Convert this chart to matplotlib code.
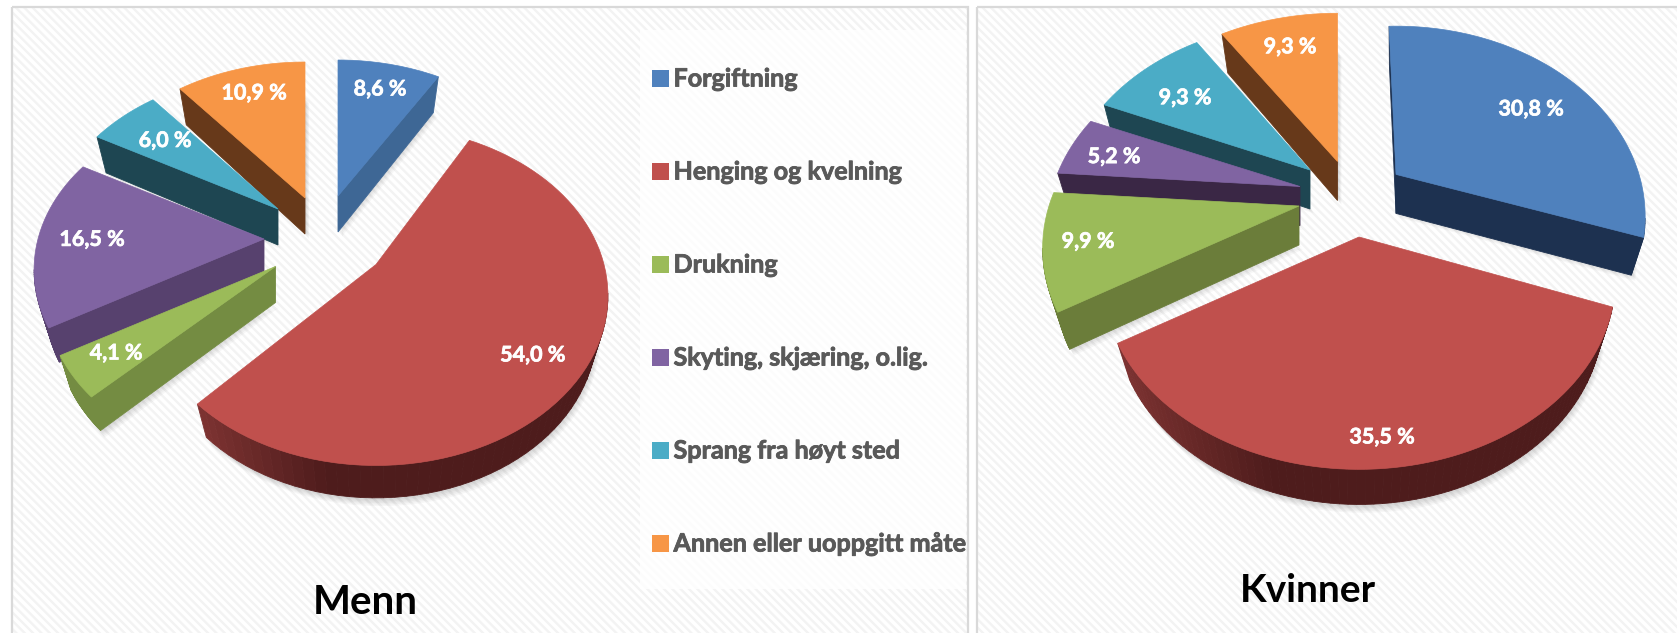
import numpy as np
import matplotlib
matplotlib.use('Agg')
import matplotlib.pyplot as plt
import matplotlib.patheffects as pe
from matplotlib.patches import Rectangle

plt.rcParams['font.family'] = ['Lato', 'DejaVu Sans']
plt.rcParams['hatch.linewidth'] = 1.7

# data
categories = ['Forgiftning', 'Henging og kvelning', 'Drukning',
              'Skyting, skjæring, o.lig.', 'Sprang fra høyt sted',
              'Annen eller uoppgitt måte']
menn = [8.6, 54.0, 4.1, 16.5, 6.0, 10.9]
kvinner = [30.8, 35.5, 9.9, 5.2, 9.3, 9.3]

# colours
tops = ['#4f81bd', '#c0504d', '#9bbb59', '#8064a2', '#4bacc6', '#f79646']
walls_m = ['#3e6795', '#4e1c1c', '#748c42', '#57416e', '#1e4652', '#67391a']
walls_k = ['#1d3150', '#4e1c1c', '#6b7d3a', '#3a2745', '#1e4652', '#67391a']

# layout of the two pies, in figure pixels
pie_m = dict(cx=320, cy=230, a=[226, 228, 226, 226, 226, 226],
             b=[161, 164, 161, 161, 161, 161], k=0.184,
             depth=36, rot=[0, -2.5, 0, 0, 0, 0],
             dx=[18, 56, -44.5, -56, -42, -15],
             dy=[-34, 34.5, 36.5, 9, -21, -32],
             lx=[380, 532.6, 116, 92, 165, 254],
             ly=[89, 355, 353, 239.4, 140.5, 93])
pie_k = dict(cx=1320, cy=190, a=[243, 250, 250, 247, 243, 248],
             b=[181, 181, 181, 181, 181, 181], k=0.221,
             depth=39, rot=[-2, 0, 0, 0, 0, 0],
             dx=[76, 39, -21, -20, -10, 17.5],
             dy=[-15.6, 47, 16, -3.5, -20, -28.5],
             lx=[1531, 1382, 1088, 1114, 1185, 1290],
             ly=[109, 437, 241.4, 156.6, 97.7, 46.8])
taper = 0.95


def outline(theta1, theta2, p, i):
    # top face of one slice, clockwise on screen: apex, then the rim
    t = np.radians(np.linspace(theta1, theta2, 80) + p['rot'][i])
    u, v = np.sin(t), np.cos(t)
    d = 1 + p['k'] * v
    ax0 = p['cx'] + p['dx'][i]
    ay0 = p['cy'] + p['dy'][i]
    x = ax0 + p['a'][i] * u / d
    y = ay0 - p['b'][i] * v / d
    return np.r_[ax0, x], np.r_[ay0, y], np.r_[0, v]


def mix(c1, c2, t):
    c1 = np.array(matplotlib.colors.to_rgb(c1))
    c2 = np.array(matplotlib.colors.to_rgb(c2))
    return tuple(c1 + (c2 - c1) * t)


def draw_pie(ax, values, p, walls):
    vals = np.array(values)
    edges = np.r_[0, np.cumsum(vals)] / vals.sum() * 360
    shapes = [outline(edges[i], edges[i + 1], p, i) for i in range(len(vals))]

    # soft shadow first, so that it stays under every slice
    for i, (x, y, v) in enumerate(shapes):
        x2 = x[0] + (x - x[0]) * taper
        for s in range(1, 6):
            ax.fill(x2 + s * 0.8, y + p['depth'] * 0.92 + s * 1.5,
                    color='black', alpha=0.03, lw=0, zorder=2)

    # back slices first
    order = [5, 4, 3, 2, 0, 1]
    for n, i in enumerate(order):
        x, y, v = shapes[i]
        z = 3 + n
        xs = np.r_[x, x[0]]
        ys = np.r_[y, y[0]]
        vs = np.r_[v, 0]
        xb = x[0] + (xs - x[0]) * taper
        xmin, xmax = x.min(), x.max()
        for j in range(len(xs) - 1):
            # only the edges running left face the viewer
            if xs[j + 1] >= xs[j]:
                continue
            col = walls[i]
            if i == 1:
                col = mix('#7c3231', walls[i],
                          min(1, (min(xs[j], xs[j + 1]) - xmin) / (0.3 * (xmax - xmin))))
            d1 = p['depth'] * (1 + 0.1 * min(vs[j], 0))
            d2 = p['depth'] * (1 + 0.1 * min(vs[j + 1], 0))
            ax.fill([xs[j], xs[j + 1], xb[j + 1], xb[j]],
                    [ys[j], ys[j + 1], ys[j + 1] + d2, ys[j] + d1],
                    color=col, lw=0.6, zorder=z)
        ax.fill(x, y, color=tops[i], lw=0.5, zorder=z + 0.5)

    for i in range(len(vals)):
        label = f'{values[i]:.1f} %'.replace('.', ',')
        ax.text(p['lx'][i], p['ly'][i], label, color='white', fontsize=15.5,
                fontweight='bold', ha='center', va='center', zorder=20,
                path_effects=[pe.withStroke(linewidth=0.5, foreground='white')])


fig = plt.figure(figsize=(16.77, 6.33), dpi=100)
ax = fig.add_axes([0, 0, 1, 1])
ax.set_xlim(0, 1677)
ax.set_ylim(633, 0)
ax.axis('off')

# the two panels with their faint stripes
for left, right in [(12, 968), (977, 1690)]:
    ax.add_patch(Rectangle((left, 7), right - left, 640, facecolor='white',
                           edgecolor='#f3f3f3', hatch='\\\\\\\\', lw=0, zorder=0))
    ax.add_patch(Rectangle((left, 7), right - left, 640, facecolor='none',
                           edgecolor='#d9d9d9', lw=1.6, zorder=1))

# legend box
ax.add_patch(Rectangle((640, 30), 326, 559, facecolor='white', alpha=0.8, lw=0, zorder=1))

draw_pie(ax, menn, pie_m, walls_m)
draw_pie(ax, kvinner, pie_k, walls_k)

# legend
legend_y = np.linspace(79, 544, len(categories))
for name, col, y in zip(categories, tops, legend_y):
    ax.add_patch(Rectangle((652, y - 9.5), 17, 17, facecolor=col, lw=0, zorder=5))
    ax.text(673.5, y, name, color='#595959', fontsize=18.1, fontweight='bold',
            ha='left', va='center', zorder=5,
            path_effects=[pe.withStroke(linewidth=0.6, foreground='#595959')])

ax.text(365, 603, 'Menn', color='black', fontsize=29, fontweight='bold',
        ha='center', va='center')
ax.text(1308, 591, 'Kvinner', color='black', fontsize=28, fontweight='bold',
        ha='center', va='center')

fig.savefig('out.png', dpi=100)
